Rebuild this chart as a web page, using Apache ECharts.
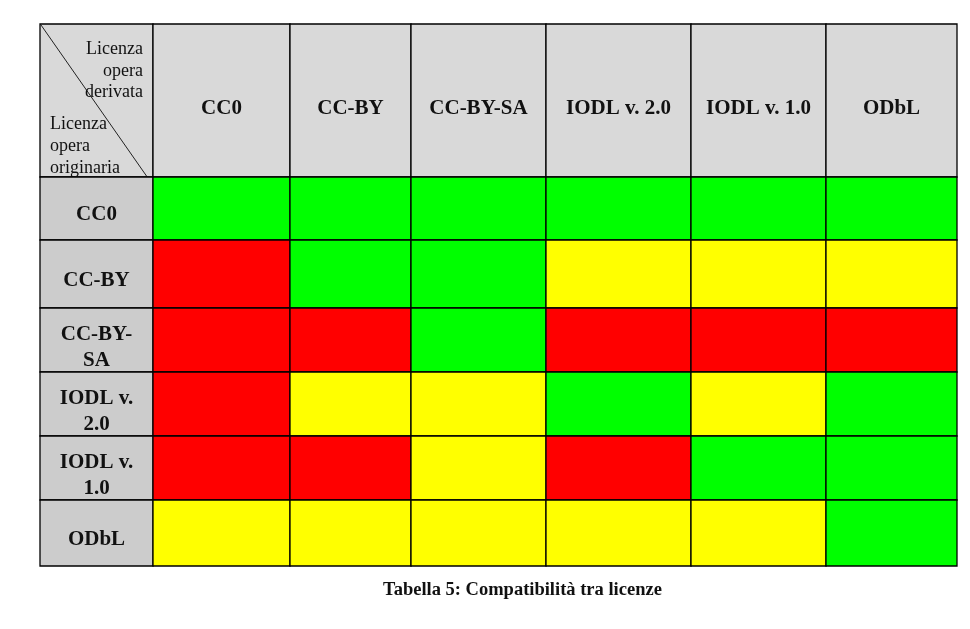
<!DOCTYPE html>
<html><head><meta charset="utf-8">
<script src="https://cdn.jsdelivr.net/npm/echarts@6/dist/echarts.min.js"></script>
<style>html,body{margin:0;padding:0;background:#fff}#c{width:970px;height:629px}</style>
</head><body><div id="c"></div>
<script>
// Column headers: licence of the derived work
const derived = ['CC0', 'CC-BY', 'CC-BY-SA', 'IODL v. 2.0', 'IODL v. 1.0', 'ODbL'];
// Row headers: licence of the original work
const original = ['CC0', 'CC-BY', 'CC-BY-\nSA', 'IODL v.\n2.0', 'IODL v.\n1.0', 'ODbL'];
// Compatibility: 2 = compatible (green), 1 = partial (yellow), 0 = incompatible (red)
const rowCC0    = [2, 2, 2, 2, 2, 2];
const rowCCBY   = [0, 2, 2, 1, 1, 1];
const rowCCBYSA = [0, 0, 2, 0, 0, 0];
const rowIODL20 = [0, 1, 1, 2, 1, 2];
const rowIODL10 = [0, 0, 1, 0, 2, 2];
const rowODbL   = [1, 1, 1, 1, 1, 2];
const matrix = [rowCC0, rowCCBY, rowCCBYSA, rowIODL20, rowIODL10, rowODbL];
const cornerTop = 'Licenza\nopera\nderivata';
const cornerBottom = 'Licenza\nopera\noriginaria';
const caption = 'Tabella 5: Compatibilità tra licenze';

// layout (relative sizes of the table columns / rows)
const colSizes = [113, 137, 121, 135, 145, 135, 131];
const rowSizes = [153, 63, 68, 64, 64, 64, 66];
const colEdges = [0]; colSizes.forEach(w => colEdges.push(colEdges[colEdges.length - 1] + w));
const rowEdges = [0]; rowSizes.forEach(h => rowEdges.push(rowEdges[rowEdges.length - 1] + h));
const levelColors = ['#ff0000', '#ffff00', '#00ff00'];
const SERIF = '"Liberation Serif", "DejaVu Serif", serif';

const data = [];
for (let r = 0; r <= original.length; r++) {
  for (let c = 0; c <= derived.length; c++) {
    const lvl = (r > 0 && c > 0) ? matrix[r - 1][c - 1] : -1;
    data.push([c, r, lvl]);
  }
}

function renderItem(params, api) {
  const c = api.value(0), r = api.value(1), lvl = api.value(2);
  const p0 = api.coord([colEdges[c], rowEdges[r]]);
  const p1 = api.coord([colEdges[c + 1], rowEdges[r + 1]]);
  const x = p0[0], y = p0[1], w = p1[0] - p0[0], h = p1[1] - p0[1];
  let fill;
  if (r === 0) fill = '#d9d9d9';
  else if (c === 0) fill = '#cccccc';
  else fill = levelColors[lvl];
  const children = [{
    type: 'rect', shape: { x: x, y: y, width: w, height: h },
    style: { fill: fill, stroke: '#000', lineWidth: 1.3 }
  }];
  if (r === 0 && c === 0) {
    children.push({ type: 'line', shape: { x1: x + 1, y1: y + 1, x2: x + w - 3, y2: y + h + 4 },
      style: { stroke: '#222', lineWidth: 1 } });
    children.push({ type: 'text', style: { x: x + w - 10, y: y + 15, text: cornerTop, textAlign: 'right',
      textVerticalAlign: 'top', font: '18px ' + SERIF, lineHeight: 21.5, fill: '#111' } });
    children.push({ type: 'text', style: { x: x + 10, y: y + 89, text: cornerBottom, textAlign: 'left',
      textVerticalAlign: 'top', font: '18px ' + SERIF, lineHeight: 22, fill: '#111' } });
  } else if (r === 0 || c === 0) {
    const label = r === 0 ? derived[c - 1] : original[r - 1];
    const dy = r === 0 ? 8 : (label.indexOf('\n') >= 0 ? 7.5 : 6.5);
    children.push({ type: 'text', style: { x: x + w / 2, y: y + h / 2 + dy, text: label, textAlign: 'center',
      textVerticalAlign: 'middle', font: 'bold 21px ' + SERIF, lineHeight: 26, fill: '#111' } });
  }
  return { type: 'group', children: children };
}

const chart = echarts.init(document.getElementById('c'), null, { renderer: 'canvas' });
chart.setOption({
  animation: false,
  backgroundColor: '#fff',
  title: {
    text: caption, left: 383, top: 581, padding: 0,
    textStyle: { fontFamily: SERIF, fontWeight: 'bold', fontSize: 18.5, color: '#111' }
  },
  grid: { left: 40, top: 24, width: colEdges[colEdges.length - 1], height: rowEdges[rowEdges.length - 1] },
  xAxis: { type: 'value', min: 0, max: colEdges[colEdges.length - 1], show: false },
  yAxis: { type: 'value', min: 0, max: rowEdges[rowEdges.length - 1], inverse: true, show: false },
  series: [{ type: 'custom', renderItem: renderItem, data: data, clip: false }]
});
</script></body></html>
